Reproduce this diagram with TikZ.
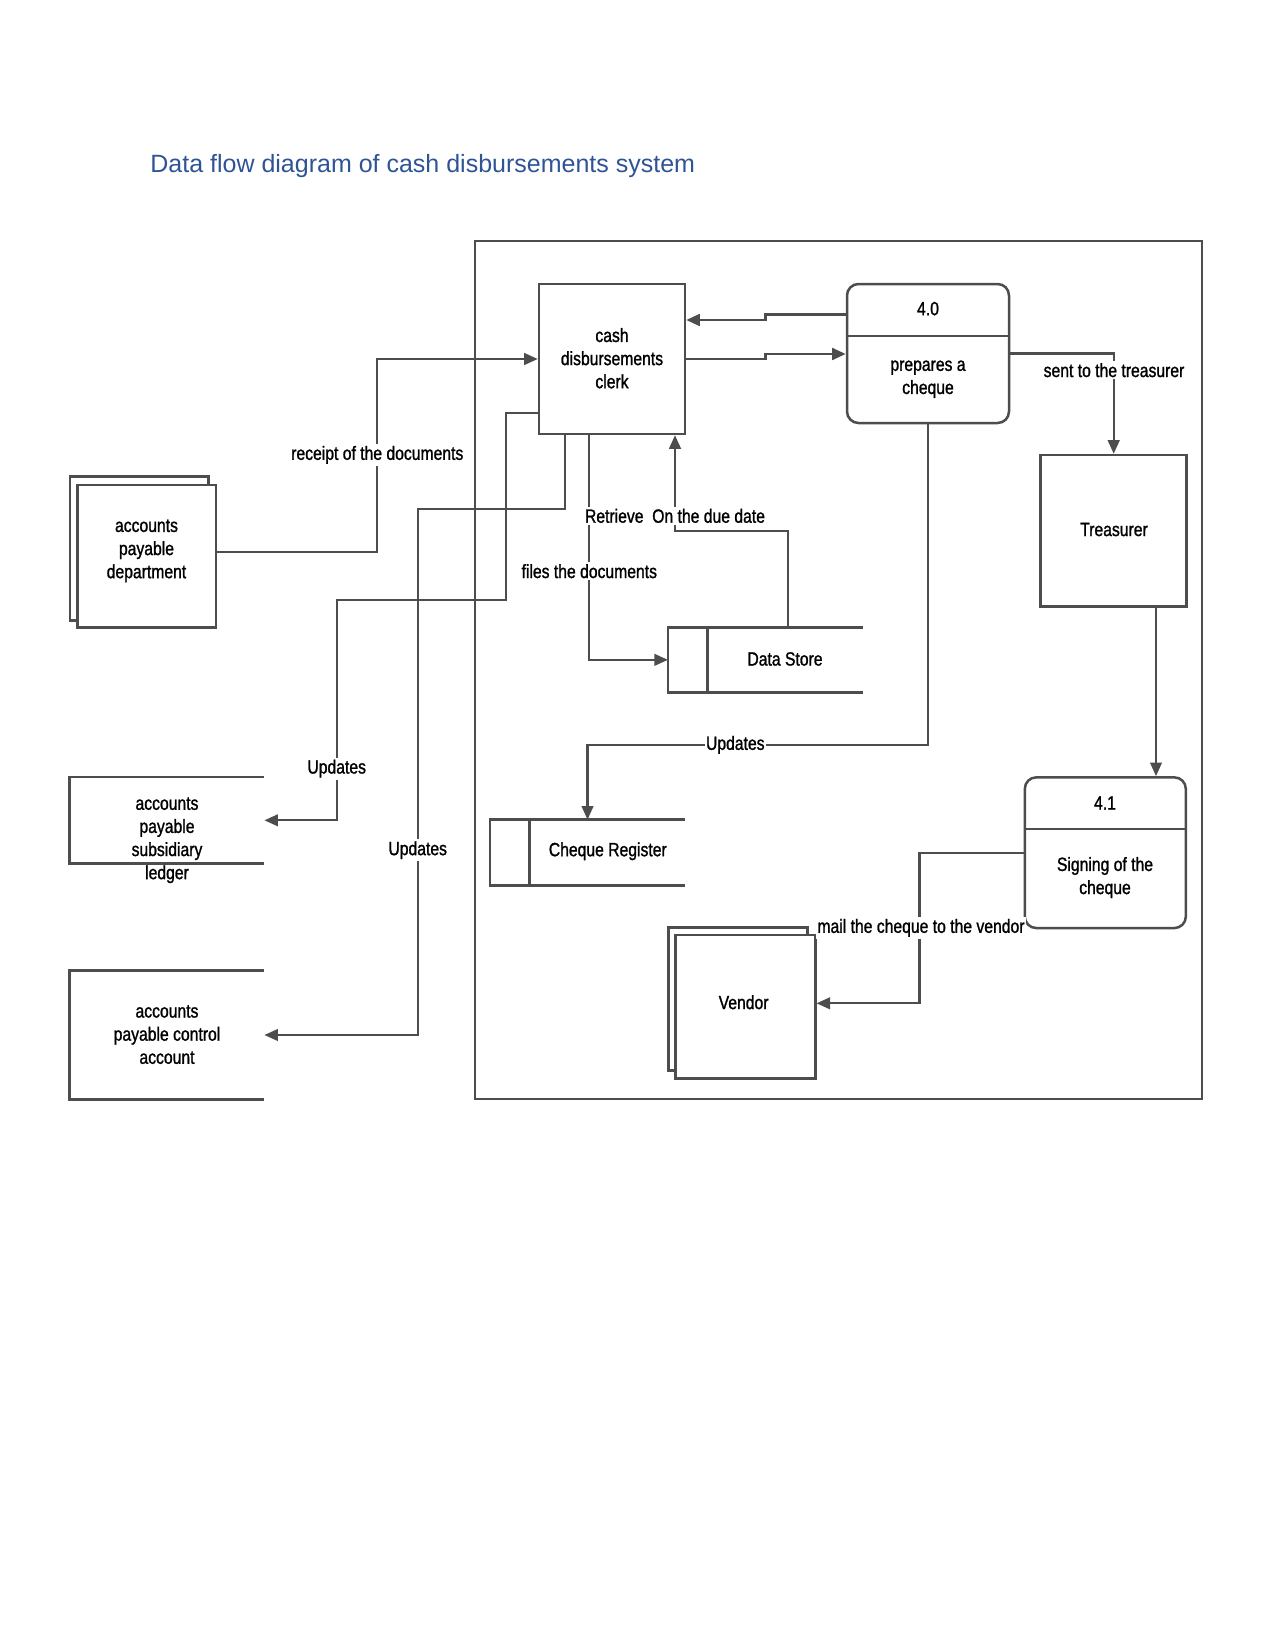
\documentclass[tikz,border=0pt]{standalone}
\usepackage{fontspec}
\setmainfont{Liberation Sans}
\newfontfamily\narrowfont[FakeStretch=0.82,FakeBold=1.2]{Liberation Sans}
\newcommand\dgmfont{\narrowfont\fontsize{9.2}{11.1}\selectfont}
\usetikzlibrary{arrows.meta}
\definecolor{titleblue}{RGB}{47,84,150}
\definecolor{linegray}{RGB}{77,77,77}
\begin{document}
\begin{tikzpicture}[x=0.48pt,y=-0.48pt,
  sz/.style 2 args={minimum width={#1*0.48pt},minimum height={#2*0.48pt}},
  boxst/.style={draw=linegray,line width=1.2pt,fill=white,inner sep=0pt},
  openst/.style={inner sep=0pt},
  procst/.style={boxst,rounded corners=5.5pt},
  txt/.style={font=\dgmfont,align=center,inner sep=0pt,text=black,yshift=-0.6pt},
  flow/.style={draw=linegray,line width=1pt,-{Triangle[length=6.5pt,width=5.6pt]}},
  thickflow/.style={flow,line width=1.3pt},
  rim/.style={draw=linegray,line width=1.2pt},
  lbl/.style={font=\dgmfont,fill=white,inner xsep=0.5pt,inner ysep=1pt,text=black,yshift=-0.9pt}
]
\useasboundingbox (0,0) rectangle (1275,1651);

\node[anchor=west,inner sep=0pt,font=\fontsize{12}{14}\selectfont,text=titleblue] (title) at (150,166.5) {Data flow diagram of cash disbursements system};

% system frame
\node[draw=linegray,line width=1pt,inner sep=0pt,sz={727}{858.3}] (sys) at (838.5,670.15) {};

% clerk
\node[boxst,sz={146}{150}] (clerk) at (612,359) {};
\node[txt] (clerkt) at (612,357) {cash\\disbursements\\clerk};

% process 4.0
\node[procst,sz={162}{139}] (p40) at (928,353.5) {};
\draw[rim] (847,336) -- (1009,336);
\node[txt] (p40n) at (928,307.4) {4.0};
\node[txt] (p40t) at (928,378) {prepares a\\cheque};

% process 4.1
\node[procst,sz={161}{150.7}] (p41) at (1105.3,852.7) {};
\draw[rim] (1024.8,829) -- (1185.8,829);
\node[txt] (p41n) at (1105,801.7) {4.1};
\node[txt] (p41t) at (1105,876.3) {Signing of the\\cheque};

% accounts payable department
\node[boxst,sz={138.7}{144}] (apdb) at (139.35,548.7) {};
\node[boxst,sz={138.7}{142.3}] (apd) at (146.65,556.15) {};
\node[txt] (apdt) at (146.5,549.6) {accounts\\payable\\department};

% subsidiary ledger
\node[openst,sz={194}{86}] (ledger) at (167,820.3) {};
\draw[rim] (ledger.north east) -- (ledger.north west) -- (ledger.south west) -- (ledger.south east);
\node[txt] (ledgert) at (167,839) {accounts\\payable\\subsidiary\\ledger};

% control account
\node[openst,sz={194}{128.6}] (control) at (167,1035) {};
\draw[rim] (control.north east) -- (control.north west) -- (control.south west) -- (control.south east);
\node[txt] (controlt) at (167,1033.3) {accounts\\payable control\\account};

% data store
\node[openst,sz={194.4}{64.3}] (store) at (765.5,659.85) {};
\draw[rim] (store.north east) -- (store.north west) -- (store.south west) -- (store.south east);
\draw[rim] (707.7,627.7) -- (707.7,692);
\node[txt] (storet) at (785,657.7) {Data Store};

% cheque register
\node[openst,sz={194}{65}] (cheque) at (587.5,852.5) {};
\draw[rim] (cheque.north east) -- (cheque.north west) -- (cheque.south west) -- (cheque.south east);
\draw[rim] (529.3,820) -- (529.3,885);
\node[txt] (chequet) at (607.8,850) {Cheque Register};

% treasurer
\node[boxst,sz={146}{151.7}] (treas) at (1113.7,530.85) {};
\node[txt] (treast) at (1114,528.3) {Treasurer};

% vendor
\node[boxst,sz={139.1}{143}] (vendb) at (738,999.2) {};
\node[boxst,sz={139.6}{143.3}] (vendor) at (745.5,1006.65) {};
\node[txt] (vendort) at (743.6,1001) {Vendor};

% connectors
\draw[flow] (apd.east |- 0,552) -| (377.3,359) -- (clerk.west);
\draw[thickflow] (p40.west |- 0,314.7) -- (765.7,314.7) -- (765.7,320) -- (clerk.east |- 0,320);
\draw[thickflow] (clerk.east) -- (765.7,359) -- (765.7,354) -- (p40.west |- 0,354);
\draw[flow] (clerk.west |- 0,413) -| (506,600) -| (336.7,820.3) -- (ledger.east);
\draw[flow] (clerk.south -| 565.3,0) |- (417.7,508.7) |- (control.east);
\draw[flow] (clerk.south -| 589.3,0) |- (store.west);
\draw[flow] (store.north -| 788,0) |- (675,530.7) -- (clerk.south -| 675,0);
\draw[flow] (p40.south) |- (587.5,745) -- (cheque.north);
\draw[flow] (p40.east) -| (treas.north);
\draw[flow] (treas.south -| 1156,0) -- (p41.north -| 1156,0);
\draw[flow] (p41.west) -| (919.5,1003.3) -- (vendor.east |- 0,1003.3);

% labels
\node[lbl] (l1) at (377.3,453) {receipt of the documents};
\node[lbl] (l2) at (675,514) {Retrieve~~On the due date};
\node[lbl] (l3) at (589.3,569.3) {files the documents};
\node[lbl] (l4) at (336.7,766.7) {Updates};
\node[lbl] (l5) at (417.7,848.3) {Updates};
\node[lbl] (l6) at (735.3,743) {Updates};
\node[lbl] (l7) at (1114,368.3) {sent to the treasurer};
\node[lbl] (l8) at (921,926) {mail the cheque to the vendor};
\end{tikzpicture}
\end{document}
